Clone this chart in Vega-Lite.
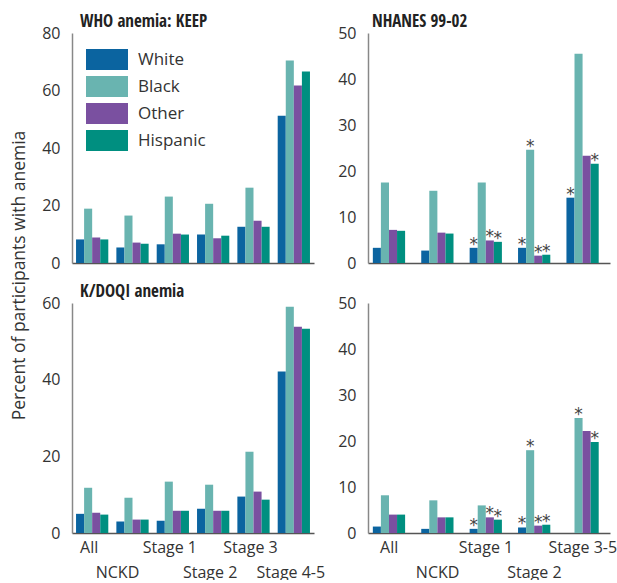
{
  "$schema": "https://vega.github.io/schema/vega-lite/v6.json",
  "padding": {"left": 10, "top": 13, "right": 0, "bottom": 0},
  "background": "white",
  "datasets": {
    "d": [
      {"panel":"WHO","stage":"All","race":"White","pct":8.2,"sig":0},
      {"panel":"WHO","stage":"All","race":"Black","pct":18.9,"sig":0},
      {"panel":"WHO","stage":"All","race":"Other","pct":8.9,"sig":0},
      {"panel":"WHO","stage":"All","race":"Hispanic","pct":8.2,"sig":0},
      {"panel":"WHO","stage":"NCKD","race":"White","pct":5.4,"sig":0},
      {"panel":"WHO","stage":"NCKD","race":"Black","pct":16.5,"sig":0},
      {"panel":"WHO","stage":"NCKD","race":"Other","pct":7.1,"sig":0},
      {"panel":"WHO","stage":"NCKD","race":"Hispanic","pct":6.7,"sig":0},
      {"panel":"WHO","stage":"Stage 1","race":"White","pct":6.5,"sig":0},
      {"panel":"WHO","stage":"Stage 1","race":"Black","pct":23.1,"sig":0},
      {"panel":"WHO","stage":"Stage 1","race":"Other","pct":10.2,"sig":0},
      {"panel":"WHO","stage":"Stage 1","race":"Hispanic","pct":9.9,"sig":0},
      {"panel":"WHO","stage":"Stage 2","race":"White","pct":9.9,"sig":0},
      {"panel":"WHO","stage":"Stage 2","race":"Black","pct":20.6,"sig":0},
      {"panel":"WHO","stage":"Stage 2","race":"Other","pct":8.6,"sig":0},
      {"panel":"WHO","stage":"Stage 2","race":"Hispanic","pct":9.5,"sig":0},
      {"panel":"WHO","stage":"Stage 3","race":"White","pct":12.6,"sig":0},
      {"panel":"WHO","stage":"Stage 3","race":"Black","pct":26.2,"sig":0},
      {"panel":"WHO","stage":"Stage 3","race":"Other","pct":14.7,"sig":0},
      {"panel":"WHO","stage":"Stage 3","race":"Hispanic","pct":12.6,"sig":0},
      {"panel":"WHO","stage":"Stage 4-5","race":"White","pct":51.2,"sig":0},
      {"panel":"WHO","stage":"Stage 4-5","race":"Black","pct":70.4,"sig":0},
      {"panel":"WHO","stage":"Stage 4-5","race":"Other","pct":61.7,"sig":0},
      {"panel":"WHO","stage":"Stage 4-5","race":"Hispanic","pct":66.6,"sig":0},

      {"panel":"NH1","stage":"All","race":"White","pct":3.3,"sig":0},
      {"panel":"NH1","stage":"All","race":"Black","pct":17.5,"sig":0},
      {"panel":"NH1","stage":"All","race":"Other","pct":7.2,"sig":0},
      {"panel":"NH1","stage":"All","race":"Hispanic","pct":7.0,"sig":0},
      {"panel":"NH1","stage":"NCKD","race":"White","pct":2.7,"sig":0},
      {"panel":"NH1","stage":"NCKD","race":"Black","pct":15.7,"sig":0},
      {"panel":"NH1","stage":"NCKD","race":"Other","pct":6.6,"sig":0},
      {"panel":"NH1","stage":"NCKD","race":"Hispanic","pct":6.4,"sig":0},
      {"panel":"NH1","stage":"Stage 1","race":"White","pct":3.3,"sig":1},
      {"panel":"NH1","stage":"Stage 1","race":"Black","pct":17.5,"sig":0},
      {"panel":"NH1","stage":"Stage 1","race":"Other","pct":4.9,"sig":1},
      {"panel":"NH1","stage":"Stage 1","race":"Hispanic","pct":4.6,"sig":1},
      {"panel":"NH1","stage":"Stage 2","race":"White","pct":3.3,"sig":1},
      {"panel":"NH1","stage":"Stage 2","race":"Black","pct":24.6,"sig":1},
      {"panel":"NH1","stage":"Stage 2","race":"Other","pct":1.6,"sig":1},
      {"panel":"NH1","stage":"Stage 2","race":"Hispanic","pct":1.8,"sig":1},
      {"panel":"NH1","stage":"Stage 3-5","race":"White","pct":14.2,"sig":1},
      {"panel":"NH1","stage":"Stage 3-5","race":"Black","pct":45.5,"sig":0},
      {"panel":"NH1","stage":"Stage 3-5","race":"Other","pct":23.3,"sig":0},
      {"panel":"NH1","stage":"Stage 3-5","race":"Hispanic","pct":21.6,"sig":1},

      {"panel":"KDOQI","stage":"All","race":"White","pct":5.0,"sig":0},
      {"panel":"KDOQI","stage":"All","race":"Black","pct":11.8,"sig":0},
      {"panel":"KDOQI","stage":"All","race":"Other","pct":5.3,"sig":0},
      {"panel":"KDOQI","stage":"All","race":"Hispanic","pct":4.8,"sig":0},
      {"panel":"KDOQI","stage":"NCKD","race":"White","pct":3.0,"sig":0},
      {"panel":"KDOQI","stage":"NCKD","race":"Black","pct":9.2,"sig":0},
      {"panel":"KDOQI","stage":"NCKD","race":"Other","pct":3.5,"sig":0},
      {"panel":"KDOQI","stage":"NCKD","race":"Hispanic","pct":3.5,"sig":0},
      {"panel":"KDOQI","stage":"Stage 1","race":"White","pct":3.2,"sig":0},
      {"panel":"KDOQI","stage":"Stage 1","race":"Black","pct":13.4,"sig":0},
      {"panel":"KDOQI","stage":"Stage 1","race":"Other","pct":5.8,"sig":0},
      {"panel":"KDOQI","stage":"Stage 1","race":"Hispanic","pct":5.8,"sig":0},
      {"panel":"KDOQI","stage":"Stage 2","race":"White","pct":6.3,"sig":0},
      {"panel":"KDOQI","stage":"Stage 2","race":"Black","pct":12.6,"sig":0},
      {"panel":"KDOQI","stage":"Stage 2","race":"Other","pct":5.8,"sig":0},
      {"panel":"KDOQI","stage":"Stage 2","race":"Hispanic","pct":5.8,"sig":0},
      {"panel":"KDOQI","stage":"Stage 3","race":"White","pct":9.5,"sig":0},
      {"panel":"KDOQI","stage":"Stage 3","race":"Black","pct":21.2,"sig":0},
      {"panel":"KDOQI","stage":"Stage 3","race":"Other","pct":10.8,"sig":0},
      {"panel":"KDOQI","stage":"Stage 3","race":"Hispanic","pct":8.7,"sig":0},
      {"panel":"KDOQI","stage":"Stage 4-5","race":"White","pct":42.1,"sig":0},
      {"panel":"KDOQI","stage":"Stage 4-5","race":"Black","pct":59.0,"sig":0},
      {"panel":"KDOQI","stage":"Stage 4-5","race":"Other","pct":53.8,"sig":0},
      {"panel":"KDOQI","stage":"Stage 4-5","race":"Hispanic","pct":53.3,"sig":0},

      {"panel":"NH2","stage":"All","race":"White","pct":1.4,"sig":0},
      {"panel":"NH2","stage":"All","race":"Black","pct":8.2,"sig":0},
      {"panel":"NH2","stage":"All","race":"Other","pct":4.0,"sig":0},
      {"panel":"NH2","stage":"All","race":"Hispanic","pct":4.0,"sig":0},
      {"panel":"NH2","stage":"NCKD","race":"White","pct":0.9,"sig":0},
      {"panel":"NH2","stage":"NCKD","race":"Black","pct":7.1,"sig":0},
      {"panel":"NH2","stage":"NCKD","race":"Other","pct":3.4,"sig":0},
      {"panel":"NH2","stage":"NCKD","race":"Hispanic","pct":3.4,"sig":0},
      {"panel":"NH2","stage":"Stage 1","race":"White","pct":0.9,"sig":1},
      {"panel":"NH2","stage":"Stage 1","race":"Black","pct":6.0,"sig":0},
      {"panel":"NH2","stage":"Stage 1","race":"Other","pct":3.4,"sig":1},
      {"panel":"NH2","stage":"Stage 1","race":"Hispanic","pct":2.9,"sig":1},
      {"panel":"NH2","stage":"Stage 2","race":"White","pct":1.2,"sig":1},
      {"panel":"NH2","stage":"Stage 2","race":"Black","pct":18.0,"sig":1},
      {"panel":"NH2","stage":"Stage 2","race":"Other","pct":1.6,"sig":1},
      {"panel":"NH2","stage":"Stage 2","race":"Hispanic","pct":1.8,"sig":1},
      {"panel":"NH2","stage":"Stage 3-5","race":"White","pct":null,"sig":0},
      {"panel":"NH2","stage":"Stage 3-5","race":"Black","pct":25.0,"sig":1},
      {"panel":"NH2","stage":"Stage 3-5","race":"Other","pct":22.2,"sig":0},
      {"panel":"NH2","stage":"Stage 3-5","race":"Hispanic","pct":19.8,"sig":1}
    ]
  },
  "columns": 2,
  "spacing": {"row": 40, "column": 54},
  "bounds": "flush",
  "resolve": {"scale": {"color": "independent", "x": "independent", "y": "independent"}, "legend": {"color": "independent"}},
  "concat": [
    {
      "width": 242, "height": 230,
      "title": {"text": "WHO anemia: KEEP"},
      "data": {"name": "d"},
      "transform": [{"filter": "datum.panel === 'WHO'"}],
      "encoding": {
        "x": {"field": "stage", "type": "nominal", "title": null,
              "scale": {"domain": ["All","NCKD","Stage 1","Stage 2","Stage 3","Stage 4-5"], "paddingInner": 0.2, "paddingOuter": 0.1},
              "axis": {"labels": false}},
        "xOffset": {"field": "race", "type": "nominal", "scale": {"domain": ["White","Black","Other","Hispanic"]}},
        "y": {"field": "pct", "type": "quantitative", "scale": {"domain": [0, 80]},
              "axis": {"values": [0,20,40,60,80], "title": "Percent of participants with anemia", "titleX": -48, "titleY": 242, "titleBaseline": "alphabetic", "titleFontSize": 17.5, "titleFontWeight": "normal"}}
      },
      "layer": [
        {"mark": {"type": "bar"},
         "encoding": {"color": {"field": "race", "type": "nominal",
            "scale": {"domain": ["White","Black","Other","Hispanic"], "range": ["#0b64a0","#69b4b0","#7a50a0","#008f80"]},
            "legend": {"orient": "none", "legendX": 24.5, "legendY": 16, "title": null, "symbolType": "M-2,-1H2V1H-2Z", "symbolSize": 441, "symbolStrokeWidth": 0, "symbolOpacity": 1, "labelFontSize": 17, "labelColor": "#333", "labelFont": "Open Sans", "rowPadding": 6, "labelOffset": 20.5}}}}
      ]
    },
    {
      "width": 242, "height": 230,
      "title": {"text": "NHANES 99-02", "dx": 4},
      "data": {"name": "d"},
      "transform": [{"filter": "datum.panel === 'NH1'"}],
      "encoding": {
        "x": {"field": "stage", "type": "nominal", "title": null,
              "scale": {"domain": ["All","NCKD","Stage 1","Stage 2","Stage 3-5"], "paddingInner": 0.2, "paddingOuter": 0.1},
              "axis": {"labels": false}},
        "xOffset": {"field": "race", "type": "nominal", "scale": {"domain": ["White","Black","Other","Hispanic"]}},
        "y": {"field": "pct", "type": "quantitative", "scale": {"domain": [0, 50]},
              "axis": {"values": [0,10,20,30,40,50], "title": null}}
      },
      "layer": [
        {"mark": {"type": "bar"},
         "encoding": {"color": {"field": "race", "type": "nominal",
            "scale": {"domain": ["White","Black","Other","Hispanic"], "range": ["#0b64a0","#69b4b0","#7a50a0","#008f80"]},
            "legend": null}}},
        {"transform": [{"filter": "datum.sig == 1"}],
         "mark": {"type": "text", "baseline": "alphabetic", "dy": 2, "fontSize": 17, "color": "#444", "font": "DejaVu Sans"},
         "encoding": {"text": {"value": "*"}}}
      ]
    },
    {
      "width": 242, "height": 230,
      "title": {"text": "K/DOQI anemia"},
      "data": {"name": "d"},
      "transform": [{"filter": "datum.panel === 'KDOQI'"}],
      "encoding": {
        "x": {"field": "stage", "type": "nominal", "title": null,
              "scale": {"domain": ["All","NCKD","Stage 1","Stage 2","Stage 3","Stage 4-5"], "paddingInner": 0.2, "paddingOuter": 0.1},
              "axis": {"labelExpr": "indexof(['NCKD','Stage 2','Stage 4-5'], datum.label) >= 0 ? ['', datum.label] : datum.label", "labelLineHeight": 25, "labelPadding": 6,
                       "labelOffset": {"condition": {"test": "datum.value === 'NCKD'", "value": -15}, "value": -3}}},
        "xOffset": {"field": "race", "type": "nominal", "scale": {"domain": ["White","Black","Other","Hispanic"]}},
        "y": {"field": "pct", "type": "quantitative", "scale": {"domain": [0, 60]},
              "axis": {"values": [0,20,40,60], "title": null}}
      },
      "layer": [
        {"mark": {"type": "bar"},
         "encoding": {"color": {"field": "race", "type": "nominal",
            "scale": {"domain": ["White","Black","Other","Hispanic"], "range": ["#0b64a0","#69b4b0","#7a50a0","#008f80"]},
            "legend": null}}}
      ]
    },
    {
      "width": 242, "height": 230,
      "data": {"name": "d"},
      "transform": [{"filter": "datum.panel === 'NH2'"}],
      "encoding": {
        "x": {"field": "stage", "type": "nominal", "title": null,
              "scale": {"domain": ["All","NCKD","Stage 1","Stage 2","Stage 3-5"], "paddingInner": 0.2, "paddingOuter": 0.1},
              "axis": {"labelExpr": "indexof(['NCKD','Stage 2'], datum.label) >= 0 ? ['', datum.label] : datum.label", "labelLineHeight": 25, "labelPadding": 6, "labelOffset": -3}},
        "xOffset": {"field": "race", "type": "nominal", "scale": {"domain": ["White","Black","Other","Hispanic"]}},
        "y": {"field": "pct", "type": "quantitative", "scale": {"domain": [0, 50]},
              "axis": {"values": [0,10,20,30,40,50], "title": null}}
      },
      "layer": [
        {"mark": {"type": "bar"},
         "encoding": {"color": {"field": "race", "type": "nominal",
            "scale": {"domain": ["White","Black","Other","Hispanic"], "range": ["#0b64a0","#69b4b0","#7a50a0","#008f80"]},
            "legend": null}}},
        {"transform": [{"filter": "datum.sig == 1"}],
         "mark": {"type": "text", "baseline": "alphabetic", "dy": 2, "fontSize": 17, "color": "#444", "font": "DejaVu Sans"},
         "encoding": {"text": {"value": "*"}}}
      ]
    }
  ],
  "config": {
    "font": "Open Sans",
    "view": {"stroke": null},
    "axis": {"labelFont": "Open Sans", "labelColor": "#333", "titleFont": "Open Sans", "titleColor": "#333", "ticks": false, "tickSize": 0},
    "axisY": {"grid": true, "gridColor": "white", "gridWidth": 2, "zindex": 1, "domainColor": "#888", "domainWidth": 1.5, "labelFontSize": 16, "labelPadding": 12},
    "axisX": {"grid": false, "domainColor": "#555", "domainWidth": 1.5, "zindex": 2, "labelFontSize": 16, "labelAngle": 0},
    "title": {"font": "Open Sans Condensed", "fontSize": 17, "fontWeight": "bold", "anchor": "start", "frame": "group", "color": "#222", "baseline": "alphabetic", "offset": -6, "dx": 8}
  }
}
